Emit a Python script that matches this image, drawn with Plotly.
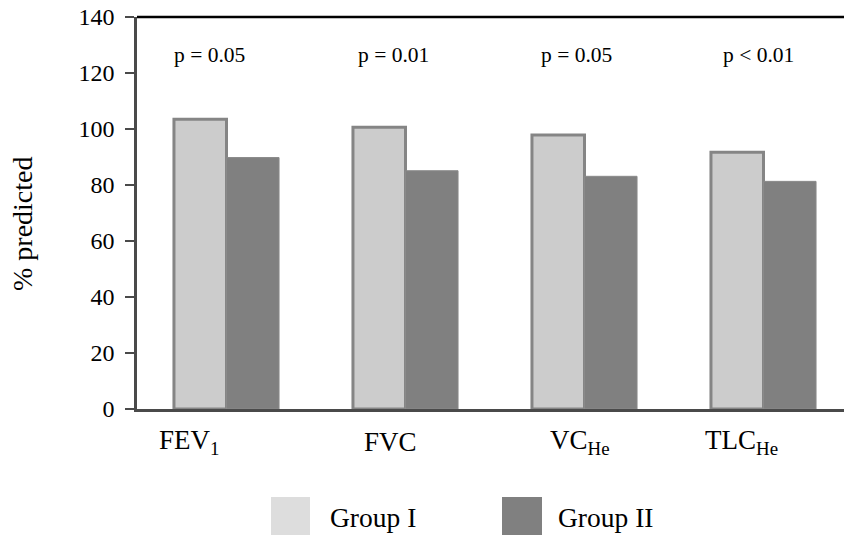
import plotly.graph_objects as go

# Lung function (% predicted) for the two patient groups
categories = ["FEV<sub>1</sub>", "FVC", "VC<sub>He</sub>", "TLC<sub>He</sub>"]
group_1 = [103.5, 100.6, 97.9, 91.7]
group_2 = [89.8, 85.1, 83.1, 81.3]
p_values = ["p = 0.05", "p = 0.01", "p = 0.05", "p < 0.01"]
y_ticks = [0, 20, 40, 60, 80, 100, 120, 140]

W, H = 844, 538
L, T, B = 137, 17, 129
plot_w = W - L
plot_h = H - T - B
cat_px = 179.0  # pixel width of one category slot

FONT = "Liberation Serif"


def px_x(px):
    return (px - L) / plot_w


def px_y(py):
    return (H - B - py) / plot_h


x_idx = list(range(len(categories)))

fig = go.Figure()
fig.add_trace(go.Bar(
    x=x_idx, y=group_1, name="Group I",
    marker=dict(color="#cccccc", line=dict(color="#858585", width=3)),
))
fig.add_trace(go.Bar(
    x=x_idx, y=group_2, name="Group II",
    marker=dict(color="#808080", line=dict(color="#8a8a8a", width=1)),
))

annotations = []
# category labels below the axis (left-anchored, offset from slot centre)
label_shift = [-70, -44, -37, -61]
for i, (lab, s) in enumerate(zip(categories, label_shift)):
    annotations.append(dict(
        x=i, xref="x", y=px_y(442), yref="paper", text=lab, showarrow=False,
        xshift=s, font=dict(family=FONT, size=27, color="#000"),
        xanchor="left", yanchor="middle",
    ))
# p-values above each group
p_shift = [-55, -50, -46, -43]
for i, (p, s) in enumerate(zip(p_values, p_shift)):
    annotations.append(dict(
        x=i, xref="x", y=px_y(55), yref="paper", text=p, showarrow=False,
        xshift=s, font=dict(family=FONT, size=21.5, color="#000"),
        xanchor="left", yanchor="middle",
    ))
# y-axis title
annotations.append(dict(
    x=px_x(22), xref="paper", y=px_y(224), yref="paper", text="% predicted",
    showarrow=False, textangle=-90, font=dict(family=FONT, size=28, color="#000"),
    xanchor="center", yanchor="middle",
))
# legend labels
annotations.append(dict(
    x=px_x(328), xref="paper", y=px_y(517), yref="paper", text="Group I",
    showarrow=False, font=dict(family=FONT, size=27.5, color="#000"),
    xanchor="left", yanchor="middle",
))
annotations.append(dict(
    x=px_x(556), xref="paper", y=px_y(517), yref="paper", text="Group II",
    showarrow=False, font=dict(family=FONT, size=27.5, color="#000"),
    xanchor="left", yanchor="middle",
))

shapes = [
    # top frame line
    dict(type="line", xref="paper", yref="paper", x0=0, x1=1, y0=1, y1=1,
         line=dict(color="#000", width=2.5)),
    # legend swatches
    dict(type="rect", xref="paper", yref="paper",
         x0=px_x(271), x1=px_x(310), y0=px_y(535), y1=px_y(497),
         fillcolor="#dddddd", line=dict(width=0)),
    dict(type="rect", xref="paper", yref="paper",
         x0=px_x(502), x1=px_x(542), y0=px_y(535), y1=px_y(497),
         fillcolor="#808080", line=dict(width=0)),
]

fig.update_layout(
    width=W, height=H,
    margin=dict(l=L, r=0, t=T, b=B, pad=0),
    paper_bgcolor="white", plot_bgcolor="white",
    barmode="group", bargap=0.413, bargroupgap=0,
    showlegend=False,
    font=dict(family=FONT, color="#000"),
    annotations=annotations, shapes=shapes,
    xaxis=dict(
        range=[-0.5, -0.5 + plot_w / cat_px],
        showticklabels=False, ticks="", showgrid=False, zeroline=False,
        showline=True, linecolor="#4a4a4a", linewidth=2.5,
    ),
    yaxis=dict(
        range=[0, 140], tickvals=y_ticks, ticks="outside", ticklen=9,
        tickwidth=2, tickcolor="#4a4a4a", showgrid=False, zeroline=False,
        showline=True, linecolor="#4a4a4a", linewidth=2.5,
        tickfont=dict(family=FONT, size=24, color="#000"),
        ticklabelstandoff=6,
    ),
)

fig.write_html("out.html")
